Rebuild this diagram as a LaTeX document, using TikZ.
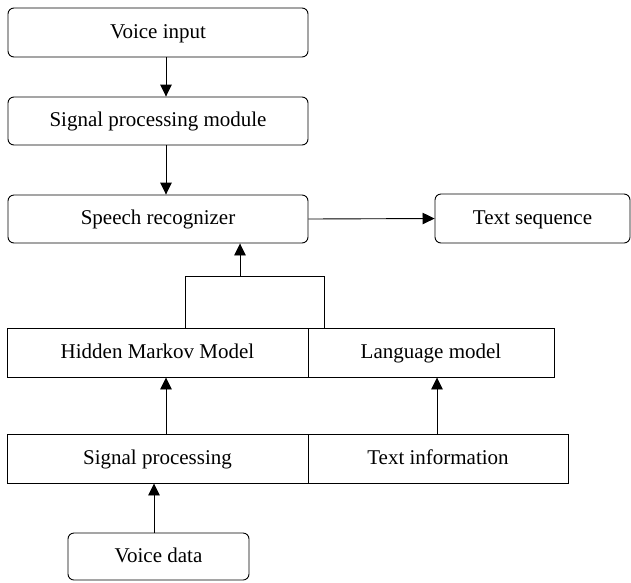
\documentclass[tikz,border=0pt]{standalone}
\usepackage{fontspec}
\setmainfont{Liberation Serif}
\usetikzlibrary{arrows.meta}

\tikzset{
  boxtext/.style={font=\fontsize{21}{24}\selectfont, text height=13.5pt, text depth=2pt},
  roundbox/.style={draw, rounded corners=6pt, line width=0.9pt, inner sep=0pt, boxtext},
  sqbox/.style={draw, line width=0.9pt, inner sep=0pt, boxtext},
  flow/.style={line width=0.9pt, -{Triangle[length=12pt,width=11.5pt]}},
  link/.style={line width=0.9pt}
}

% box given by its pixel corners: #1 style, #2 name, x0, y0, x1, y1, text
\newcommand{\pxbox}[7]{%
  \node[#1, minimum width={(#5-#3)*1pt}, minimum height={(#6-#4)*1pt}]
    (#2) at ({(#3+#5)/2}, {(#4+#6)/2}) {#7};}

\begin{document}
\begin{tikzpicture}[x=1pt, y=-1pt]
  \useasboundingbox (0,0) rectangle (631,582);

  % upper pipeline
  \pxbox{roundbox}{vi}{8}{8}{308}{57}{Voice input}
  \pxbox{roundbox}{spm}{8}{97}{308}{145}{Signal processing module}
  \pxbox{roundbox}{sr}{8}{195}{308}{243}{Speech recognizer}
  \pxbox{roundbox}{ts}{435}{194}{630}{243}{Text sequence}

  % models
  \pxbox{sqbox}{hmm}{7}{328}{308}{377}{Hidden Markov Model}
  \pxbox{sqbox}{lm}{308}{328}{554}{377}{Language model}

  % sources
  \pxbox{sqbox}{sp}{7}{434}{308}{483}{Signal processing}
  \pxbox{sqbox}{ti}{308}{434}{568}{483}{Text information}
  \pxbox{roundbox}{vd}{68}{533}{249}{580}{Voice data}

  % guide coordinates for the vertical connectors
  \coordinate (ax) at (166,0);
  \coordinate (bx) at (437,0);
  \coordinate (cx) at (154,0);
  \coordinate (jl) at (185,276);
  \coordinate (jr) at (324,276);
  \coordinate (jm) at (240,276);

  \draw[flow] (vi.south -| ax) -- (spm.north -| ax);
  \draw[flow] (spm.south -| ax) -- (sr.north -| ax);
  \draw[flow] (sr.east) -- (ts.west);

  \draw[link] (jl |- hmm.north) -- (jl) -- (jr) -- (jr |- lm.north);
  \draw[flow] (jm) -- (jm |- sr.south);

  \draw[flow] (sp.north -| ax) -- (hmm.south -| ax);
  \draw[flow] (ti.north -| bx) -- (lm.south -| bx);
  \draw[flow] (vd.north -| cx) -- (sp.south -| cx);
\end{tikzpicture}
\end{document}
